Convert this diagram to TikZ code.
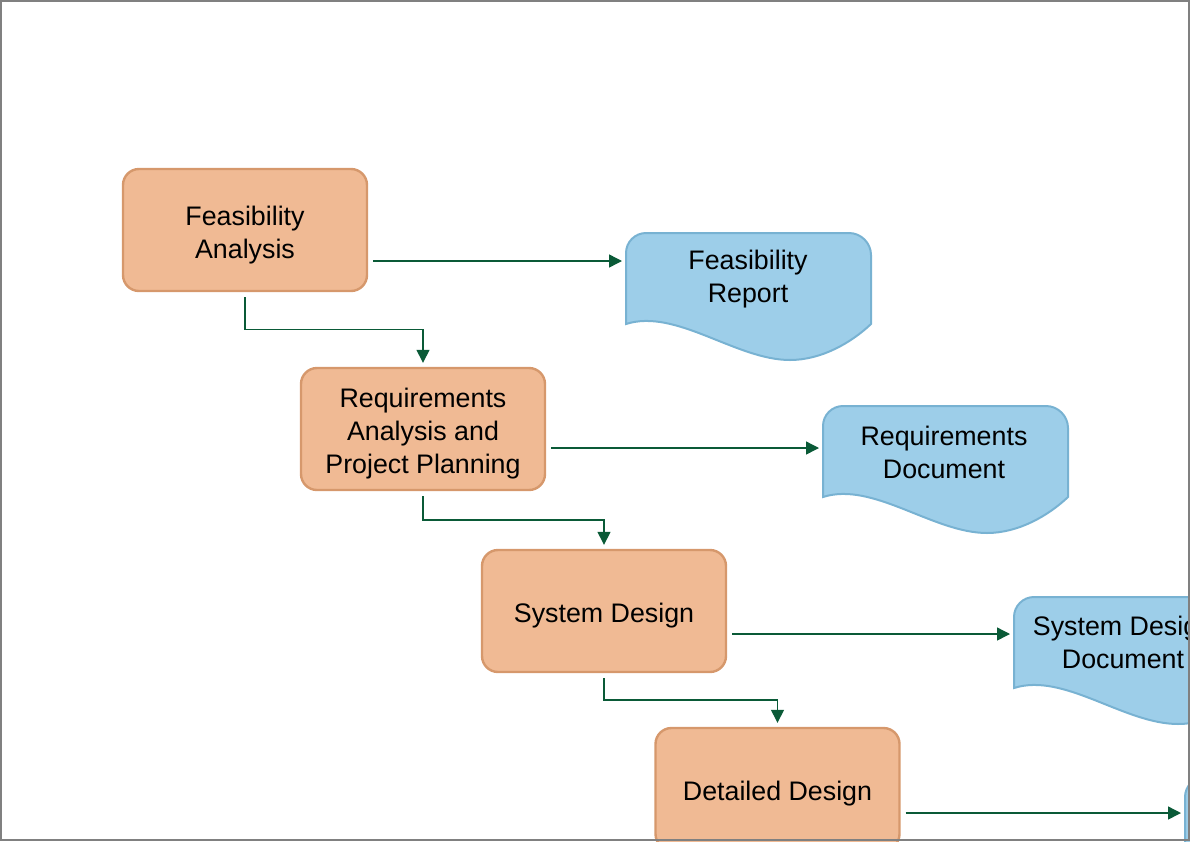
\documentclass[tikz,border=0pt]{standalone}
\usepackage{fontspec}
\setmainfont{Liberation Sans}
\usetikzlibrary{arrows.meta,calc,backgrounds}
\definecolor{procfill}{RGB}{240,186,148}
\definecolor{procline}{RGB}{214,152,108}
\definecolor{docfill}{RGB}{157,206,233}
\definecolor{docline}{RGB}{120,178,210}
\definecolor{arrcol}{RGB}{10,90,55}
\definecolor{framecol}{RGB}{128,128,128}
\tikzset{
  procbox/.style={rectangle, rounded corners=16pt, minimum width=244pt, minimum height=122pt,
    fill=procfill, draw=procline, line width=2.4pt, inner sep=0pt},
  proctext/.style={align=center, inner sep=0pt, yshift=-5pt,
    font=\fontsize{26.8}{33}\selectfont},
  doctext/.style={align=center, inner sep=0pt, font=\fontsize{26.8}{33}\selectfont},
  docshape/.style={fill=docfill, draw=docline, line width=2pt},
  arr/.style={draw=arrcol, line width=1.4pt, -{Triangle[length=13pt,width=13pt]},
    shorten <=5pt, shorten >=4pt},
}
\newcommand{\docpath}[1]{%
  \path[docshape, shift={(#1)}]
    (0,91) -- (0,20) .. controls (0,9) and (9,0) .. (20,0) -- (223,0)
    .. controls (235,0) and (245,10) .. (245,22) -- (245,91)
    .. controls (225,110) and (195,127) .. (164,127)
    .. controls (110,127) and (50,75) .. (0,91) -- cycle;}
\begin{document}
\begin{tikzpicture}[x=1pt,y=-1pt]
\useasboundingbox (0,0) rectangle (1190,841);
\begin{scope}
\clip (0,0) rectangle (1190,841);
% process boxes
\node[procbox, label={[proctext]center:Feasibility\\Analysis}] (b1) at (245,230) {};
\node[procbox, label={[proctext]center:Requirements\\Analysis and\\Project Planning}] (b2) at (423,429) {};
\node[procbox, label={[proctext]center:System Design}] (b3) at (604,611) {};
\node[procbox, label={[proctext]center:Detailed Design}] (b4) at (777.5,789) {};
% documents
\coordinate (d1) at (626,233);
\coordinate (d2) at (823,406);
\coordinate (d3) at (1014,597);
\coordinate (d4) at (1185,777);
\docpath{d1}
\docpath{d2}
\docpath{d3}
\docpath{d4}
\node[doctext] (t1) at (748,279) {Feasibility\\Report};
\node[doctext] (t2) at (944,452) {Requirements\\Document};
\node[doctext] (t3) at (1123,642) {System Design\\Document};
% horizontal connectors
\coordinate (a1) at ([yshift=-31pt]b1.east);
\coordinate (a2) at ([yshift=-19pt]b2.east);
\coordinate (a3) at ([yshift=-23pt]b3.east);
\coordinate (a4) at ([yshift=-24pt]b4.east);
\draw[arr] (a1) -- (a1 -| d1);
\draw[arr] (a2) -- (a2 -| d2);
\draw[arr] (a3) -- (a3 -| d3);
\draw[arr] (a4) -- (a4 -| d4);
% elbow connectors
\draw[arr] (b1.south) |- ($(b1.south)!.5!(b2.north)$) -| (b2.north);
\draw[arr] (b2.south) |- ($(b2.south)!.5!(b3.north)$) -| (b3.north);
\draw[arr] (b3.south) |- ($(b3.south)!.5!(b4.north)$) -| (b4.north);
\end{scope}
\draw[framecol, line width=2pt] (1,1) rectangle (1189,840);
\end{tikzpicture}
\end{document}
